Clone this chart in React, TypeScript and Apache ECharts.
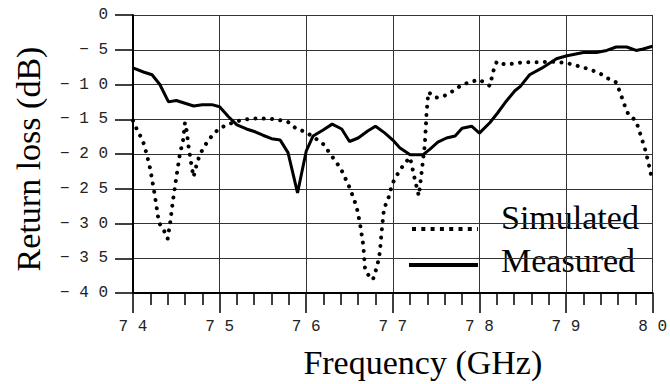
import React, { useEffect, useRef } from "react";
import * as echarts from "echarts";

const xTicks = [74, 75, 76, 77, 78, 79, 80];
const yTicks = [0, -5, -10, -15, -20, -25, -30, -35, -40];

const measuredFreq = [
  74.0, 74.12, 74.22, 74.31, 74.41, 74.5, 74.6, 74.7, 74.8, 74.91, 75.0, 75.1, 75.2, 75.31, 75.41,
  75.5, 75.6, 75.7, 75.79, 75.9, 76.0, 76.08, 76.2, 76.3, 76.41, 76.5, 76.6, 76.71, 76.8, 76.91,
  77.0, 77.08, 77.2, 77.35, 77.43, 77.52, 77.62, 77.72, 77.8, 77.91, 78.0, 78.12, 78.21, 78.31,
  78.41, 78.47, 78.58, 78.72, 78.89, 79.0, 79.2, 79.35, 79.47, 79.58, 79.7, 79.81, 79.89, 80.0,
];
const measuredLoss = [
  -7.6, -8.2, -8.6, -10.0, -12.5, -12.3, -12.7, -13.1, -12.9, -12.9, -13.2, -14.6, -15.8, -16.4, -16.8,
  -17.3, -17.8, -18.0, -19.8, -25.6, -19.6, -17.4, -16.5, -15.7, -16.4, -18.2, -17.7, -16.7, -16.0, -17.0,
  -18.0, -19.1, -20.1, -20.1, -19.3, -18.3, -17.7, -17.4, -16.3, -16.0, -17.0, -15.5, -14.1, -12.4,
  -10.9, -10.3, -8.6, -7.65, -6.3, -5.9, -5.4, -5.4, -5.1, -4.6, -4.6, -5.1, -4.9, -4.5,
];

const simulatedFreq = [
  74.0, 74.06, 74.11, 74.16, 74.2, 74.25, 74.3, 74.35, 74.4, 74.43, 74.46, 74.5, 74.54, 74.58, 74.6,
  74.62, 74.64, 74.68, 74.7, 74.72, 74.77, 74.85, 74.91, 74.98, 75.08, 75.2, 75.29, 75.4, 75.5, 75.6,
  75.7, 75.79, 75.89, 75.99, 76.1, 76.2, 76.29, 76.4, 76.5, 76.58, 76.62, 76.66, 76.68, 76.71, 76.77,
  76.82, 76.85, 76.87, 76.9, 76.94, 76.99, 77.04, 77.09, 77.14, 77.2, 77.25, 77.3, 77.33, 77.37, 77.39,
  77.41, 77.5, 77.6, 77.7, 77.79, 77.89, 78.0, 78.12, 78.16, 78.2, 78.29, 78.39, 78.5, 78.62, 78.72,
  78.81, 78.91, 79.0, 79.1, 79.2, 79.29, 79.39, 79.48, 79.58, 79.62, 79.68, 79.72, 79.77, 79.81, 79.86,
  79.92, 79.96, 80.0,
];
const simulatedLoss = [
  -15.2, -16.9, -17.9, -20.1, -22.2, -25.8, -29.9, -30.8, -32.2, -29.8, -26.8, -23.4, -20.1, -17.9, -15.5,
  -16.7, -18.8, -22.0, -23.3, -22.2, -20.1, -18.4, -17.4, -16.5, -15.8, -15.3, -15.05, -14.9, -14.9, -14.95,
  -15.15, -15.4, -16.4, -16.8, -17.7, -18.6, -20.2, -22.1, -24.8, -27.5, -29.9, -33.2, -36.6, -37.3, -38.1,
  -36.1, -34.2, -31.3, -27.7, -26.8, -24.4, -23.2, -22.2, -21.3, -20.5, -23.4, -26.0, -22.9, -18.6, -14.1,
  -11.1, -11.9, -11.6, -10.9, -10.1, -9.65, -9.3, -10.2, -8.1, -6.7, -7.1, -7.0, -6.8, -6.8, -6.8,
  -6.7, -6.8, -6.9, -7.2, -7.55, -7.9, -8.4, -9.1, -9.7, -11.0, -13.1, -14.3, -14.8, -15.3, -17.2,
  -19.6, -21.7, -24.0,
];

const seriesNames = ["Simulated", "Measured"];

const spaced = (v: number) => {
  const s = String(Math.abs(Math.round(v))).split("").join(" ");
  return v < 0 ? "\u2212 " + s : s;
};

export default function App() {
  const ref = useRef<HTMLDivElement>(null);
  useEffect(() => {
    document.body.style.margin = "0";
    if (!ref.current) return;
    const chart = echarts.init(ref.current, undefined, { renderer: "svg" });
    const mono = "Liberation Mono";
    const serif = "Liberation Serif";
    chart.setOption({
      animation: false,
      backgroundColor: "#ffffff",
      grid: { left: 133, right: 17, top: 15, bottom: 90 },
      xAxis: {
        type: "value",
        min: xTicks[0],
        max: xTicks[xTicks.length - 1],
        interval: 1,
        name: "Frequency (GHz)",
        nameLocation: "middle",
        nameGap: 52,
        nameTextStyle: { fontFamily: serif, fontSize: 34, color: "#000", padding: [0, 0, 0, 60] },
        axisLine: { show: true, onZero: false, lineStyle: { color: "#000", width: 2 } },
        axisTick: { show: true, length: 20, lineStyle: { color: "#000", width: 1.5 } },
        minorTick: { show: true, splitNumber: 5, length: 12, lineStyle: { color: "#000", width: 1.5 } },
        splitLine: { show: true, lineStyle: { color: "#333", width: 1 } },
        axisLabel: {
          margin: 26,
          fontFamily: mono,
          fontSize: 16,
          color: "#222",
          formatter: (v: number) => spaced(v),
        },
      },
      yAxis: {
        type: "value",
        min: yTicks[yTicks.length - 1],
        max: yTicks[0],
        interval: 5,
        name: "Return loss (dB)",
        nameLocation: "middle",
        nameGap: 88,
        nameRotate: 90,
        nameTextStyle: { fontFamily: serif, fontSize: 34, color: "#000", padding: [0, 10, 0, 0] },
        axisLine: { show: true, onZero: false, lineStyle: { color: "#000", width: 2 } },
        axisTick: { show: true, length: 18, lineStyle: { color: "#000", width: 1.5 } },
        splitLine: { show: true, lineStyle: { color: "#333", width: 1 } },
        axisLabel: {
          margin: 25,
          fontFamily: mono,
          fontSize: 16,
          color: "#222",
          formatter: (v: number) => spaced(v),
        },
      },
      series: [
        {
          name: seriesNames[0],
          type: "line",
          data: simulatedFreq.map((f, i) => [f, simulatedLoss[i]]),
          showSymbol: false,
          symbol: "none",
          lineStyle: { color: "#000", width: 4, type: [0.01, 8.3], cap: "round" },
          z: 3,
        },
        {
          name: seriesNames[1],
          type: "line",
          data: measuredFreq.map((f, i) => [f, measuredLoss[i]]),
          showSymbol: false,
          symbol: "none",
          lineStyle: { color: "#000", width: 3, type: "solid" },
          z: 4,
        },
      ],
      graphic: [
        {
          type: "line",
          shape: { x1: 412, y1: 229, x2: 478, y2: 229 },
          style: { stroke: "#000", lineWidth: 4, lineDash: [4, 5.3] },
        },
        {
          type: "text",
          x: 501,
          y: 217.5,
          style: {
            text: seriesNames[0],
            fontFamily: serif,
            fontSize: 34,
            fill: "#000",
            align: "left",
            verticalAlign: "middle",
          },
        },
        {
          type: "line",
          shape: { x1: 409, y1: 265, x2: 478, y2: 265 },
          style: { stroke: "#000", lineWidth: 4 },
        },
        {
          type: "text",
          x: 501,
          y: 260.5,
          style: {
            text: seriesNames[1],
            fontFamily: serif,
            fontSize: 34,
            fill: "#000",
            align: "left",
            verticalAlign: "middle",
          },
        },
      ],
    });
    return () => chart.dispose();
  }, []);
  return <div ref={ref} style={{ width: 670, height: 384 }} />;
}
